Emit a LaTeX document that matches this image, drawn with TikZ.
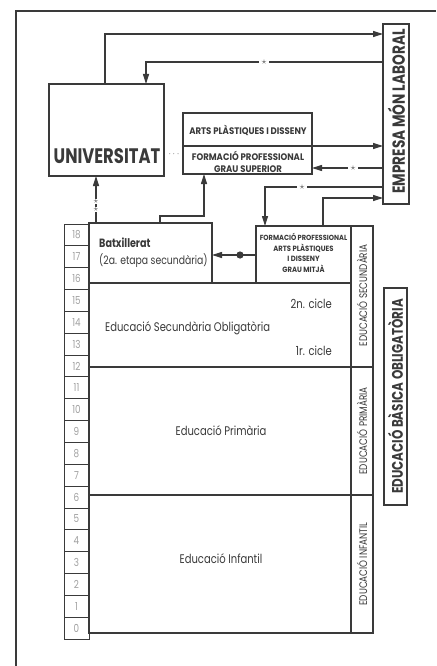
\documentclass[tikz,border=0pt]{standalone}
\usepackage{fontspec}
\usetikzlibrary{arrows.meta}
\setmainfont{Poppins}[FakeStretch=0.8]
\newfontfamily\cond{Poppins}[FakeStretch=0.8]
\newfontfamily\condb{Poppins}[FakeStretch=0.78]
\newfontfamily\condc{Poppins}[FakeStretch=0.9]
\newcommand\fsz[1]{\fontsize{#1}{#1}\selectfont}
\definecolor{ink}{HTML}{3A3A3A}
\definecolor{agegray}{HTML}{A0A0A0}
\begin{document}
\begin{tikzpicture}[x=1pt,y=-1pt,
  box/.style={draw=ink, line width=1.1pt, inner sep=0pt, outer sep=0pt, anchor=north west},
  cell/.style={draw=ink, line width=0.9pt, inner sep=0pt, outer sep=0pt, minimum width=25pt, minimum height=21.84pt, text=agegray, font=\cond\fsz{11}},
  lbl/.style={text=ink, inner sep=0pt, anchor=base},
  rot/.style={text=ink, inner sep=0pt, rotate=90},
  arr/.style={draw=ink, line width=1.1pt, -{Triangle[length=10pt,width=6pt]}},
  ln/.style={draw=ink, line width=1.1pt},
  starlbl/.style={fill=white, inner sep=2.5pt, text=ink!80, font=\fsz{10}}
]
\useasboundingbox (0,0) rectangle (436,666);
\fill[white] (0,0) rectangle (436,666);
\draw[ln] (16,666) -- (16,11) -- (436,11);

% main boxes
\node[box, minimum width=115pt, minimum height=92pt] (univ) at (49,84) {};
\node[lbl, font=\condb\bfseries\fsz{21}] (univt) at (107,163) {UNIVERSITAT};

\node[box, minimum width=129pt, minimum height=33pt] (artsA) at (183,113) {};
\node[box, minimum width=129pt, minimum height=28pt] (artsB) at (183,146) {};
\node[lbl, font=\condc\bfseries\fsz{9.5}] (artst) at (248,135) {ARTS PLÀSTIQUES I DISSENY};
\node[lbl, font=\condc\bfseries\fsz{9.5}] (fpst1) at (248,160) {FORMACIÓ PROFESSIONAL};
\node[lbl, font=\condc\bfseries\fsz{9.5}] (fpst2) at (248,172) {GRAU SUPERIOR};

\node[box, minimum width=26pt, minimum height=180pt] (emp) at (383,24) {};
\node[rot, font=\condb\bfseries\fsz{17.5}] (empt) at (396.5,111.5) {EMPRESA MÓN LABORAL};

\node[box, minimum width=123pt, minimum height=60pt] (batx) at (89,223) {};
\node[lbl, anchor=base west, font=\cond\bfseries\fsz{12}] (batxt1) at (99,247) {Batxillerat};
\node[lbl, anchor=base west, font=\cond\fsz{11.6}] (batxt2) at (99,264) {(2a. etapa secundària)};

\node[box, minimum width=95pt, minimum height=57pt] (fpm) at (256,226) {};
\node[lbl, font=\condc\bfseries\fsz{7.4}] (fpmt1) at (303.5,240) {FORMACIÓ PROFESSIONAL};
\node[lbl, font=\condc\bfseries\fsz{7.6}] (fpmt2) at (303.5,251) {ARTS PLÀSTIQUES};
\node[lbl, font=\condc\bfseries\fsz{7.6}] (fpmt3) at (303.5,261.5) {I DISSENY};
\node[lbl, font=\condc\bfseries\fsz{7.6}] (fpmt4) at (303.5,272) {GRAU MITJÀ};

\node[box, minimum width=262pt, minimum height=84pt] (eso) at (89,283) {};
\node[lbl, anchor=base west, font=\cond\fsz{12.5}] (esot) at (105,331) {Educació Secundària Obligatòria};
\node[lbl, anchor=base east, font=\cond\fsz{12.5}] (c2) at (332,308) {2n. cicle};
\node[lbl, anchor=base east, font=\cond\fsz{12.5}] (c1) at (332,355) {1r. cicle};

\node[box, minimum width=262pt, minimum height=128pt] (prim) at (89,367) {};
\node[lbl, font=\cond\fsz{12.5}] (primt) at (221,435) {Educació Primària};
\node[box, minimum width=262pt, minimum height=138pt] (inf) at (89,495) {};
\node[lbl, font=\cond\fsz{12.5}] (inft) at (221,563) {Educació Infantil};

% side columns
\node[box, minimum width=22pt, minimum height=141pt] (csec) at (351,226) {};
\node[rot, font=\cond\fsz{11}] (csect) at (362,295.5) {EDUCACIÓ SECUNDÀRIA};
\node[box, minimum width=22pt, minimum height=128pt] (cpri) at (351,367) {};
\node[rot, font=\cond\fsz{11}] (cprit) at (362,431) {EDUCACIÓ PRIMÀRIA};
\node[box, minimum width=22pt, minimum height=138pt] (cinf) at (351,495) {};
\node[rot, font=\cond\fsz{11}] (cinft) at (362,564) {EDUCACIÓ INFANTIL};

\node[box, minimum width=23pt, minimum height=217pt] (bas) at (384,288) {};
\node[rot, font=\condb\bfseries\fsz{15.3}] (bast) at (395.5,396.5) {EDUCACIÓ BÀSICA OBLIGATÒRIA};

% age column
\foreach \i in {0,...,18}{
  \node[cell] (age\i) at (76.5,{639-(\i+0.5)*21.84}) {\i};
}

% connectors
\draw[arr] (univ.north -| 105,0) -- (105,34) -- (emp.west |- 0,34);
\draw[arr] (emp.west |- 0,62) -- (146,62) -- (univ.north -| 146,0);
\node[starlbl] (s1) at (264,62) {$\star$};
\draw[arr] (artsB.north east) -- (emp.west |- artsB.north east);
\draw[arr] (emp.west |- 0,168) -- (artsB.east |- 0,168);
\node[starlbl] (s2) at (353,168) {$\star$};
\draw[arr] (emp.west |- 0,187) -- (265,187) -- (fpm.north -| 265,0);
\node[starlbl] (s3) at (302,187) {$\star$};
\draw[arr] (fpm.north -| 323,0) -- (323,198) -- (emp.west |- 0,198);
\draw[arr] (batx.north -| 160,0) -- (160,216) -- (204,216) -- (artsB.south -| 204,0);
\draw[arr] (batx.north -| 96,0) -- (univ.south -| 96,0);
\node[starlbl, inner sep=0.3pt, font=\fsz{9}] (s4) at (96,201.5) {$\star$};
\node[starlbl, inner sep=0.3pt, font=\fsz{9}] (s5) at (96,209.5) {$\star$};
\draw[arr] (fpm.west |- 0,255) -- (batx.east |- 0,255);
\fill[ink] (240,255) circle (3.6pt);
\node[text=ink, inner sep=0pt, font=\fsz{9}] (dots) at (174,154) {$\cdots$};
\end{tikzpicture}
\end{document}
